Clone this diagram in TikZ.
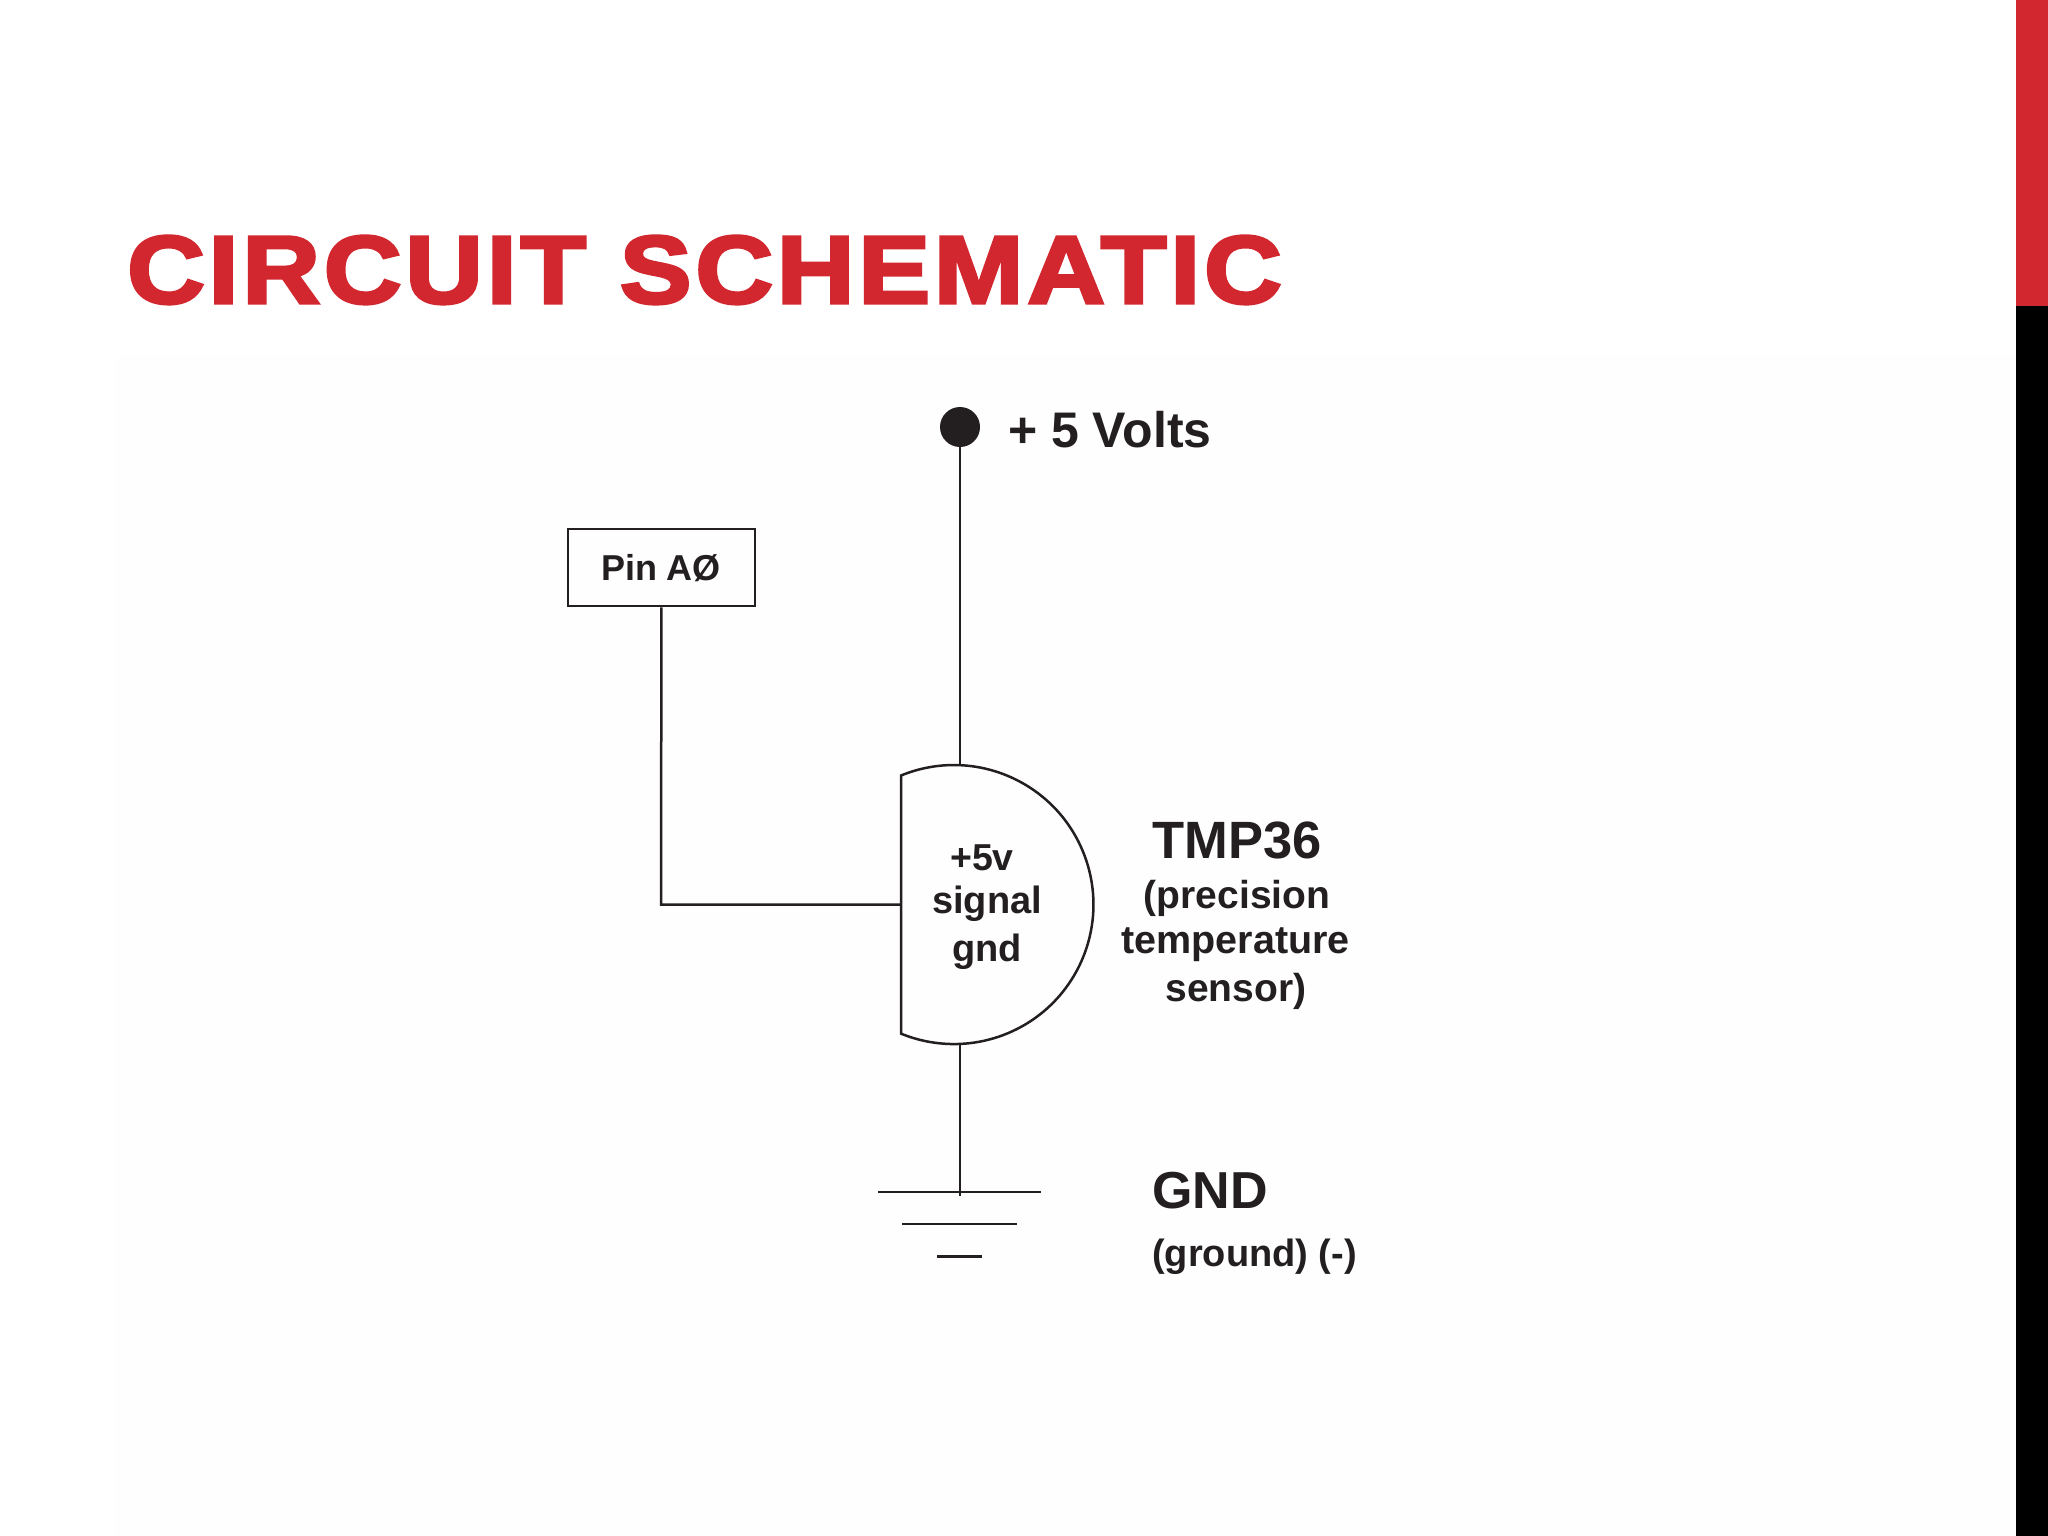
\documentclass[tikz,border=0pt]{standalone}
\usepackage{fontspec}
\setmainfont{Liberation Sans}
\newfontfamily\titlefont[FakeBold=3.4,FakeStretch=1.12,LetterSpace=4]{Liberation Sans Bold}
\definecolor{ink}{HTML}{231F20}
\definecolor{brandred}{HTML}{D2272F}
\definecolor{panel}{HTML}{FEFEFE}
\tikzset{
  wire/.style={draw=ink,line width=2.5pt},
  lab/.style={inner sep=0pt,text=ink,font=\bfseries\fontsize{#1}{#1}\selectfont,anchor=base west},
  mid/.style={inner sep=0pt,text=ink,font=\bfseries\fontsize{#1}{#1}\selectfont,anchor=base},
}
\begin{document}
\begin{tikzpicture}[x=1pt,y=-1pt]
\useasboundingbox (0,0) rectangle (2048,1536);
\fill[white] (0,0) rectangle (2048,1536);
\fill[panel] (115,355) rectangle (2016,1536);
\fill[brandred] (2016,0) rectangle (2048,306);
\fill[black] (2016,306) rectangle (2048,1536);
\node[inner sep=0pt,anchor=base west,text=brandred,font=\titlefont\fontsize{96}{96}\selectfont] (title) at (127,303) {CIRCUIT SCHEMATIC};

\node[circle,fill=ink,minimum size=40pt,inner sep=0pt] (vcc) at (960,427) {};
\node[lab=50] (vlabel) at (1008,447) {+ 5 Volts};
\node[draw=ink,line width=2.5pt,minimum width=187pt,minimum height=77pt,inner sep=0pt] (pinbox) at (661.5,567.5) {};
\node[mid=36] (pin) at (661,580) {Pin AØ};

\draw[wire] (901,775.5) arc[start angle=112.3,end angle=-112.3,radius=139.5pt] -- cycle;
\coordinate (stop) at (960,766);
\coordinate (sbot) at (960,1044);
\coordinate (sleft) at (901,904.5);
\coordinate (corner) at (661,904.5);
\coordinate (gtip) at (960,1196);
\draw[wire] (vcc) -- (stop);
\draw[wire] (pinbox) -- (corner) -- (sleft);
\draw[wire] (sbot) -- (gtip);

\coordinate (g1a) at (878,1192); \coordinate (g1b) at (1041,1192);
\coordinate (g2a) at (902,1224); \coordinate (g2b) at (1017,1224);
\coordinate (g3a) at (937,1256.5); \coordinate (g3b) at (982,1256.5);
\draw[wire] (g1a) -- (g1b);
\draw[wire] (g2a) -- (g2b);
\draw[wire] (g3a) -- (g3b);

\node[mid=37.5] (p5) at (982,870) {+5v};
\node[mid=38] (sig) at (987,913) {signal};
\node[mid=38] (gnd) at (987,961) {gnd};
\node[lab=52.5] (tmp) at (1152,858) {TMP36};
\node[mid=39] (t1) at (1237,908) {(precision};
\node[mid=39.5] (t2) at (1235.5,953) {temperature};
\node[mid=39] (t3) at (1236,1001) {sensor)};
\node[lab=52] (gl) at (1152,1208.5) {GND};
\node[lab=38] (gl2) at (1152,1266) {(ground) (-)};
\end{tikzpicture}
\end{document}
